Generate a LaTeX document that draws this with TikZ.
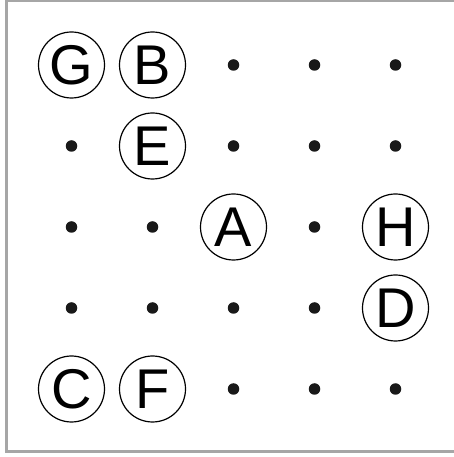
\documentclass[tikz,border=0pt]{standalone}
\usepackage{fontspec}
\setmainfont{Liberation Sans}
\begin{document}
\begin{tikzpicture}[x=1pt,y=1pt,
  lbl/.style={circle,draw,line width=1.2pt,minimum size=66pt,inner sep=0pt,font=\fontsize{56}{56}\selectfont},
  pt/.style={circle,fill=black!90,minimum size=11.5pt,inner sep=0pt}]
\useasboundingbox (0,0) rectangle (454,457);
\draw[line width=3pt,black!35] (6.5,5) rectangle (457,456);
% columns
\def\cA{71.5}\def\cB{152.5}\def\cC{233.5}\def\cD{314.5}\def\cE{395.5}
% rows (tikz y = 457 - y)
\def\rA{392}\def\rB{311}\def\rC{230}\def\rD{149}\def\rE{68}
\node[lbl] (G) at (\cA,\rA) {G};
\node[lbl] (B) at (\cB,\rA) {B};
\node[pt] (p13) at (\cC,\rA) {};
\node[pt] (p14) at (\cD,\rA) {};
\node[pt] (p15) at (\cE,\rA) {};
\node[pt] (p21) at (\cA,\rB) {};
\node[lbl] (E) at (\cB,\rB) {E};
\node[pt] (p23) at (\cC,\rB) {};
\node[pt] (p24) at (\cD,\rB) {};
\node[pt] (p25) at (\cE,\rB) {};
\node[pt] (p31) at (\cA,\rC) {};
\node[pt] (p32) at (\cB,\rC) {};
\node[lbl] (A) at (\cC,\rC) {A};
\node[pt] (p34) at (\cD,\rC) {};
\node[lbl] (H) at (\cE,\rC) {H};
\node[pt] (p41) at (\cA,\rD) {};
\node[pt] (p42) at (\cB,\rD) {};
\node[pt] (p43) at (\cC,\rD) {};
\node[pt] (p44) at (\cD,\rD) {};
\node[lbl] (D) at (\cE,\rD) {D};
\node[lbl] (C) at (\cA,\rE) {C};
\node[lbl] (F) at (\cB,\rE) {F};
\node[pt] (p53) at (\cC,\rE) {};
\node[pt] (p54) at (\cD,\rE) {};
\node[pt] (p55) at (\cE,\rE) {};
\end{tikzpicture}
\end{document}
